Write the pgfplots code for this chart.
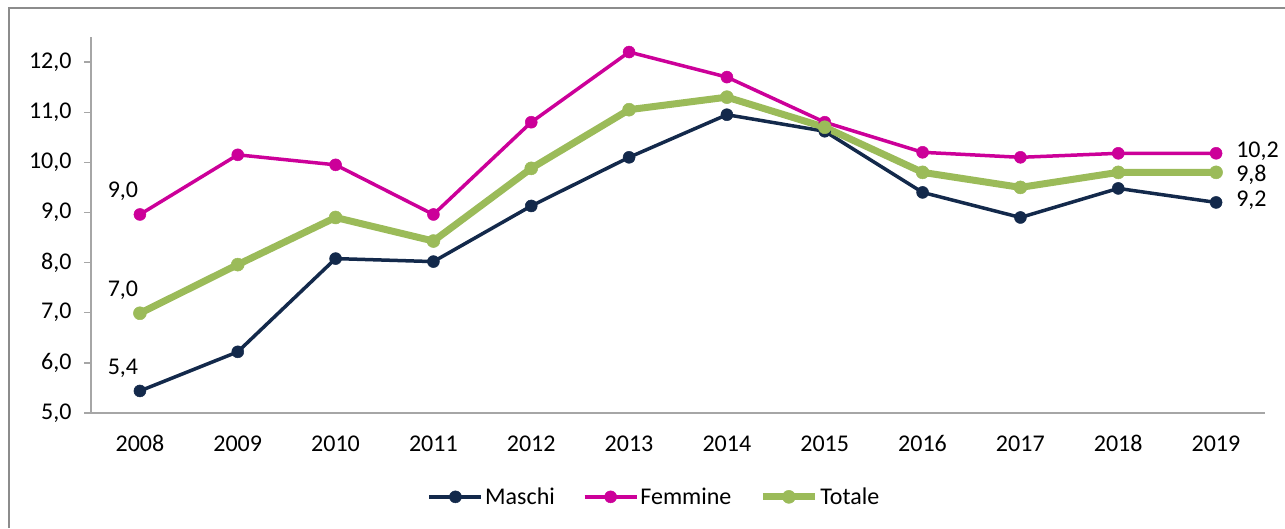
\documentclass[border=0pt]{standalone}
\usepackage{pgfplots}
\pgfplotsset{compat=1.18}
\usepackage{fontspec}
\setmainfont{Carlito}
\definecolor{maschi}{HTML}{13294B}
\definecolor{femmine}{HTML}{CC0099}
\definecolor{totale}{HTML}{9BBB59}
\definecolor{asse}{HTML}{A6A6A6}
\definecolor{cornice}{HTML}{8C8C8C}
\newcommand{\fnt}{\fontsize{24}{28}\selectfont}
\begin{document}
\begin{tikzpicture}
\useasboundingbox (0,0) rectangle (1285pt,528pt);
% cornice del grafico
\draw[cornice, line width=1.4pt] (9pt,0pt) -- (9pt,520pt) -- (1285pt,520pt);
\begin{axis}[
  at={(91pt,115pt)}, anchor=south west,
  scale only axis, width=1174pt, height=376pt,
  xmin=2007.5, xmax=2019.5, ymin=5, ymax=12.5,
  axis lines=left, axis line style={asse, line width=1.4pt, -},
  xtick={2008,...,2019},
  xticklabels={2008,2009,2010,2011,2012,2013,2014,2015,2016,2017,2018,2019},
  ytick={5,6,...,12},
  yticklabels={{5,0},{6,0},{7,0},{8,0},{9,0},{10,0},{11,0},{12,0}},
  major x tick style={draw=none},
  major y tick style={asse, line width=1.4pt},
  tick align=outside, major tick length=7pt,
  tick label style={font=\fnt, text=black},
  xticklabel style={yshift=-12pt},
  yticklabel style={xshift=-9pt},
  legend columns=3,
  legend style={at={(0.48,-0.223)}, anchor=center, draw=none, font=\fnt,
    /tikz/every even column/.append style={column sep=26pt}},
  legend image code/.code={\draw[mark repeat=2, mark phase=2]
    plot coordinates {(0pt,0pt) (26pt,0pt) (52pt,0pt)};},
  clip=false,
]
\addplot[maschi, line width=3.5pt, mark=*, mark size=6pt, mark options={line width=0.5pt}] coordinates {
 (2008,5.44) (2009,6.22) (2010,8.08) (2011,8.02) (2012,9.13) (2013,10.1)
 (2014,10.95) (2015,10.62) (2016,9.4) (2017,8.9) (2018,9.48) (2019,9.2)};
\addlegendentry{Maschi}
\addplot[femmine, line width=3.5pt, mark=*, mark size=6pt, mark options={line width=0.5pt}] coordinates {
 (2008,8.96) (2009,10.15) (2010,9.95) (2011,8.96) (2012,10.8) (2013,12.2)
 (2014,11.7) (2015,10.8) (2016,10.2) (2017,10.1) (2018,10.18) (2019,10.18)};
\addlegendentry{Femmine}
\addplot[totale, line width=7pt, mark=*, mark size=6.5pt, mark options={line width=0.5pt}] coordinates {
 (2008,6.99) (2009,7.96) (2010,8.9) (2011,8.43) (2012,9.88) (2013,11.05)
 (2014,11.3) (2015,10.7) (2016,9.8) (2017,9.5) (2018,9.8) (2019,9.8)};
\addlegendentry{Totale}
% etichette dei valori
\addplot[draw=none, mark=none, forget plot, point meta=explicit symbolic,
  nodes near coords, nodes near coords style={font=\fnt,
  text=black, anchor=center, xshift=-17pt, yshift=23pt}] coordinates {
 (2008,8.96) [9,0] (2008,6.99) [7,0] (2008,5.44) [5,4]};
\addplot[draw=none, mark=none, forget plot, point meta=explicit symbolic,
  nodes near coords, nodes near coords style={font=\fnt, inner sep=0pt,
  text=black, anchor=west, xshift=20pt, yshift=2pt}] coordinates {
 (2019,10.18) [10,2] (2019,9.2) [9,2]};
\addplot[draw=none, mark=none, forget plot, point meta=explicit symbolic,
  nodes near coords, nodes near coords style={font=\fnt, inner sep=0pt,
  text=black, anchor=west, xshift=20pt, yshift=-2pt}] coordinates {
 (2019,9.8) [9,8]};
\end{axis}
\end{tikzpicture}
\end{document}
